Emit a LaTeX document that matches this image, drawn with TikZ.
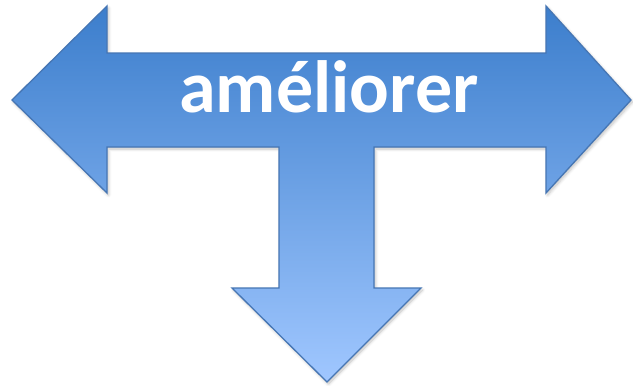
\documentclass[tikz,border=0pt]{standalone}
\usepackage{fontspec}
\setmainfont{Carlito}
\usetikzlibrary{shadows.blur}
\definecolor{gtop}{RGB}{60,126,204}
\definecolor{gbot}{RGB}{160,199,255}
\definecolor{edge}{RGB}{70,118,180}
\tikzset{
  arrowshape/.style={draw=edge, line width=1.3pt, line join=miter, top color=gtop, bottom color=gbot,
    blur shadow={shadow xshift=1.5pt, shadow yshift=-2pt, shadow blur steps=6, shadow opacity=25, shadow blur radius=3pt}},
  label/.style={text=white, font=\fontsize{74}{74}\selectfont\bfseries, inner sep=0pt, anchor=base}
}
\begin{document}
\begin{tikzpicture}[x=1pt,y=-1pt]
\useasboundingbox (0,0) rectangle (633,386);
\path[arrowshape] (12,100) -- (107,6) -- (107,53) -- (546,53) -- (546,6) -- (631,100) -- (546,193) -- (546,147)
  -- (374,147) -- (374,288) -- (421,288) -- (327,382) -- (232,288) -- (279,288) -- (279,147)
  -- (107,147) -- (107,193) -- cycle;
\node[label] (t) at (329,112) {améliorer};
\end{tikzpicture}
\end{document}
